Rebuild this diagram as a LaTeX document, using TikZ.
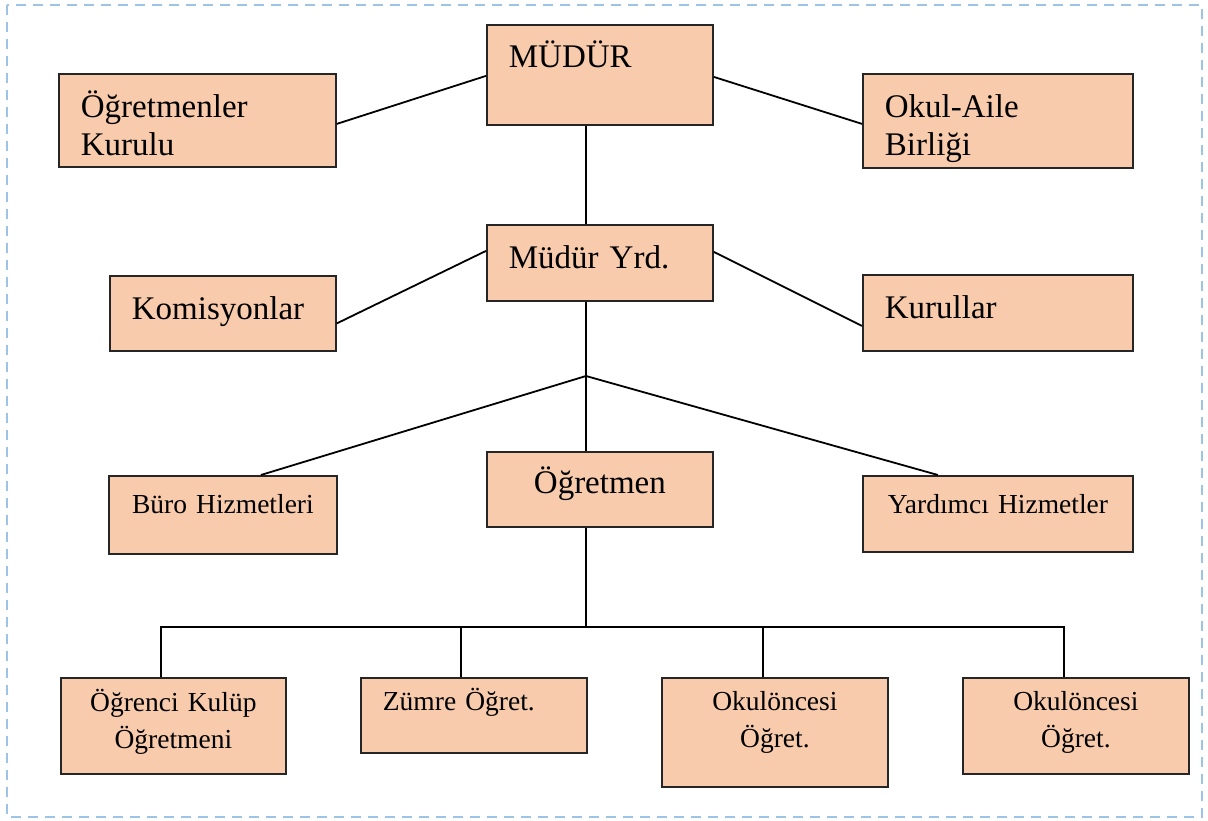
\documentclass[tikz,border=0pt]{standalone}
\usepackage{fontspec}
\setmainfont{Liberation Serif}
\definecolor{boxfill}{HTML}{F8CBAD}
\definecolor{boxline}{HTML}{262626}
\definecolor{dashblue}{HTML}{9DC3E6}
\tikzset{
  orgbox/.style={draw=boxline, fill=boxfill, line width=1.8pt, anchor=north west,
    inner ysep=0pt, text=black},
  bigtxt/.style={font={\fontsize{33}{38}\selectfont}},
  smalltxt/.style={font={\fontsize{27.5}{37}\selectfont}},
  lefttxt/.style={inner xsep=22pt, align=left},
  centtxt/.style={inner xsep=0pt, align=center},
  conn/.style={draw=black, line width=1.8pt},
  frame/.style={draw=dashblue, line width=2pt, dash pattern=on 10pt off 7pt}
}
\begin{document}
\begin{tikzpicture}[x=1pt,y=-1pt]
\useasboundingbox (0,0) rectangle (1208,821);
\draw[frame] (7,5) rectangle (1202,817);

% top row
\node[orgbox, bigtxt, lefttxt, text width=182pt, text height=43pt, text depth=57pt] (mudur) at (486,24) {MÜDÜR};
\node[orgbox, bigtxt, lefttxt, text width=233pt, text height=44pt, text depth=49pt] (ogk) at (58,73) {Öğretmenler\\Kurulu};
\node[orgbox, bigtxt, lefttxt, text width=226pt, text height=44pt, text depth=50pt] (oab) at (862,73) {Okul-Aile\\Birliği};

% second row
\node[orgbox, bigtxt, lefttxt, text width=182pt, text height=44pt, text depth=32pt] (myrd) at (486,224) {Müdür Yrd.};
\node[orgbox, bigtxt, lefttxt, text width=182pt, text height=44pt, text depth=31pt] (kom) at (109,275) {Komisyonlar};
\node[orgbox, bigtxt, lefttxt, text width=226pt, text height=44pt, text depth=32pt] (kur) at (862,274) {Kurullar};

% third row
\node[orgbox, smalltxt, centtxt, text width=228pt, text height=38pt, text depth=40pt] (buro) at (108,475) {Büro Hizmetleri};
\node[orgbox, bigtxt, centtxt, text width=226pt, text height=42pt, text depth=33pt] (ogr) at (486,451) {Öğretmen};
\node[orgbox, smalltxt, centtxt, text width=270pt, text height=38pt, text depth=38pt] (yard) at (862,475) {Yardımcı Hizmetler};

% bottom row
\node[orgbox, smalltxt, centtxt, text width=225pt, text height=34pt, text depth=62pt] (kulup) at (60,677) {Öğrenci Kulüp\\Öğretmeni};
\node[orgbox, smalltxt, lefttxt, text width=182pt, text height=33pt, text depth=42pt] (zumre) at (360,677) {Zümre Öğret.};
\node[orgbox, smalltxt, centtxt, text width=226pt, text height=33pt, text depth=76pt] (okc1) at (661,677) {Okulöncesi\\Öğret.};
\node[orgbox, smalltxt, centtxt, text width=226pt, text height=33pt, text depth=63pt] (okc2) at (962,677) {Okulöncesi\\Öğret.};

% connectors
\coordinate (j) at (586,376);
\coordinate (bus) at (586,627);

\draw[conn] ([yshift=-3.5pt]ogk.east) -- ([yshift=-1pt]mudur.west);
\draw[conn] ([yshift=-2pt]mudur.east) -- ([yshift=-3pt]oab.west);
\draw[conn] (j |- mudur.south) -- (j |- myrd.north);
\draw[conn] ([yshift=-10pt]kom.east) -- ([yshift=12pt]myrd.west);
\draw[conn] ([yshift=11pt]myrd.east) -- ([yshift=-13pt]kur.west);
\draw[conn] (j |- myrd.south) -- (j |- ogr.north);
\draw[conn] (j) -- ([xshift=38pt]buro.north);
\draw[conn] (j) -- ([xshift=-60pt]yard.north);
\draw[conn] (bus |- ogr.south) -- (bus);
\draw[conn] ([xshift=-12.5pt]kulup.north) |- (bus) -| ([xshift=-12pt]okc2.north);
\draw[conn] ([xshift=-13pt]zumre.north) -- ([xshift=-13pt]zumre.north |- bus);
\draw[conn] ([xshift=-12pt]okc1.north) -- ([xshift=-12pt]okc1.north |- bus);
\end{tikzpicture}
\end{document}
